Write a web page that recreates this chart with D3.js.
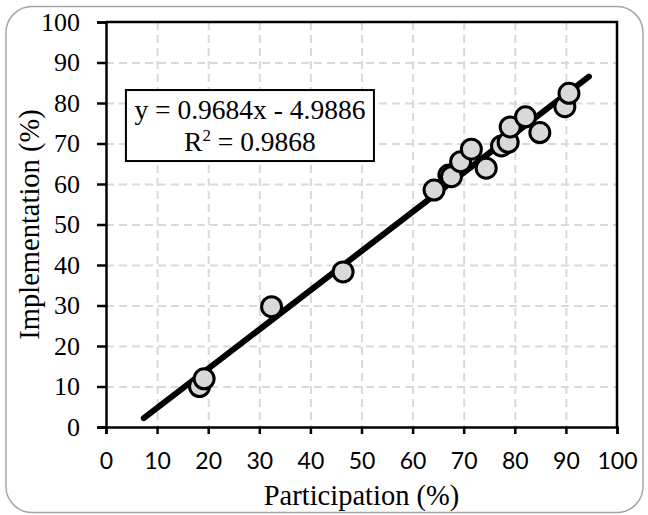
<!DOCTYPE html>
<html>
<head>
<meta charset="utf-8">
<script src="https://d3js.org/d3.v7.min.js"></script>
<style>
  body { margin: 0; background: #fff; }
  text { font-family: "Liberation Serif", serif; fill: #000; }
  .grid line { stroke: #d9d9d9; stroke-width: 2; stroke-dasharray: 8 5; }
  .grid .domain { stroke: none; }
  .axis line, .axis path { stroke: #000; stroke-width: 2.5; }
  .y.axis text { font-size: 26px; font-family: "Liberation Serif", serif; }
  .x.axis text { font-size: 23px; font-family: Lato, "Open Sans", sans-serif; }
</style>
</head>
<body>
<svg id="chart" width="648" height="515"></svg>
<script>
// participation (%) vs implementation (%)
const participation = [18.3, 19.2, 32.4, 46.4, 64.2, 67.1, 67.6, 69.4, 71.5, 74.4, 77.4, 78.7, 79.1, 82.1, 84.9, 89.8, 90.6];
const implementation = [10.0, 11.9, 29.7, 38.3, 58.5, 62.2, 61.8, 65.5, 68.6, 63.9, 69.4, 70.3, 74.1, 76.6, 72.7, 79.1, 82.4];
const xTicks = [0, 10, 20, 30, 40, 50, 60, 70, 80, 90, 100];
const yTicks = [0, 10, 20, 30, 40, 50, 60, 70, 80, 90, 100];
const slope = 0.9684, intercept = -4.9886, r2 = 0.9868;
const trendRange = [7.4, 94.5];

const svg = d3.select('#chart');
const margin = {top: 22, right: 31, bottom: 88, left: 106};
const width = +svg.attr('width'), height = +svg.attr('height');
const w = width - margin.left - margin.right;
const h = height - margin.top - margin.bottom;

// outer frame
svg.append('rect')
  .attr('x', 6).attr('y', 6.5)
  .attr('width', 637).attr('height', 506)
  .attr('rx', 26).attr('ry', 26)
  .attr('fill', '#fff').attr('stroke', '#a6a6a6').attr('stroke-width', 1.5);

const x = d3.scaleLinear().domain([0, 100]).range([0, w]);
const y = d3.scaleLinear().domain([0, 100]).range([h, 0]);

const g = svg.append('g').attr('transform', `translate(${margin.left},${margin.top})`);

g.append('g').attr('class', 'grid')
  .call(d3.axisLeft(y).tickValues(yTicks.slice(1, -1)).tickSize(-w).tickFormat(''));
g.append('g').attr('class', 'grid')
  .call(d3.axisBottom(x).tickValues(xTicks.slice(1, -1)).tickSize(h).tickFormat(''));

// plot border (top/right)
g.append('path')
  .attr('d', `M0,0H${w}V${h}`)
  .attr('fill', 'none').attr('stroke', '#000').attr('stroke-width', 2.5);

g.append('g').attr('class', 'x axis')
  .attr('transform', `translate(0,${h})`)
  .call(d3.axisBottom(x).tickValues(xTicks).tickSizeOuter(0).tickSize(7).tickPadding(19));
g.append('g').attr('class', 'y axis')
  .call(d3.axisLeft(y).tickValues(yTicks).tickSizeOuter(0).tickSize(9).tickPadding(17));

// trend line
g.append('line')
  .attr('x1', x(trendRange[0])).attr('y1', y(slope * trendRange[0] + intercept))
  .attr('x2', x(trendRange[1])).attr('y2', y(slope * trendRange[1] + intercept))
  .attr('stroke', '#000').attr('stroke-width', 6).attr('stroke-linecap', 'round');

g.selectAll('circle.pt').data(participation)
  .join('circle')
  .attr('class', 'pt')
  .attr('cx', d => x(d))
  .attr('cy', (d, i) => y(implementation[i]))
  .attr('r', 10)
  .attr('fill', '#d9d9d9').attr('stroke', '#000').attr('stroke-width', 3);

// equation box
const box = g.append('g').attr('transform', `translate(${x(3.9)},${y(83.2)})`);
box.append('rect').attr('width', 248).attr('height', 71)
  .attr('fill', '#fff').attr('stroke', '#000').attr('stroke-width', 2);
box.append('text').attr('x', 124).attr('y', 29).attr('text-anchor', 'middle')
  .style('font-size', '27.5px')
  .text(`y = ${slope}x - ${Math.abs(intercept)}`);
const t2 = box.append('text').attr('x', 124).attr('y', 61).attr('text-anchor', 'middle')
  .style('font-size', '27.5px');
t2.append('tspan').text('R');
t2.append('tspan').attr('dy', -10).style('font-size', '17px').text('2');
t2.append('tspan').attr('dy', 10).text(` = ${r2}`);

// axis titles
svg.append('text')
  .attr('x', margin.left + w / 2).attr('y', 505)
  .attr('text-anchor', 'middle').style('font-size', '28.5px')
  .text('Participation (%)');
svg.append('text')
  .attr('transform', `translate(39,${margin.top + h / 2}) rotate(-90)`)
  .attr('text-anchor', 'middle').style('font-size', '28.5px')
  .text('Implementation (%)');
</script>
</body>
</html>
